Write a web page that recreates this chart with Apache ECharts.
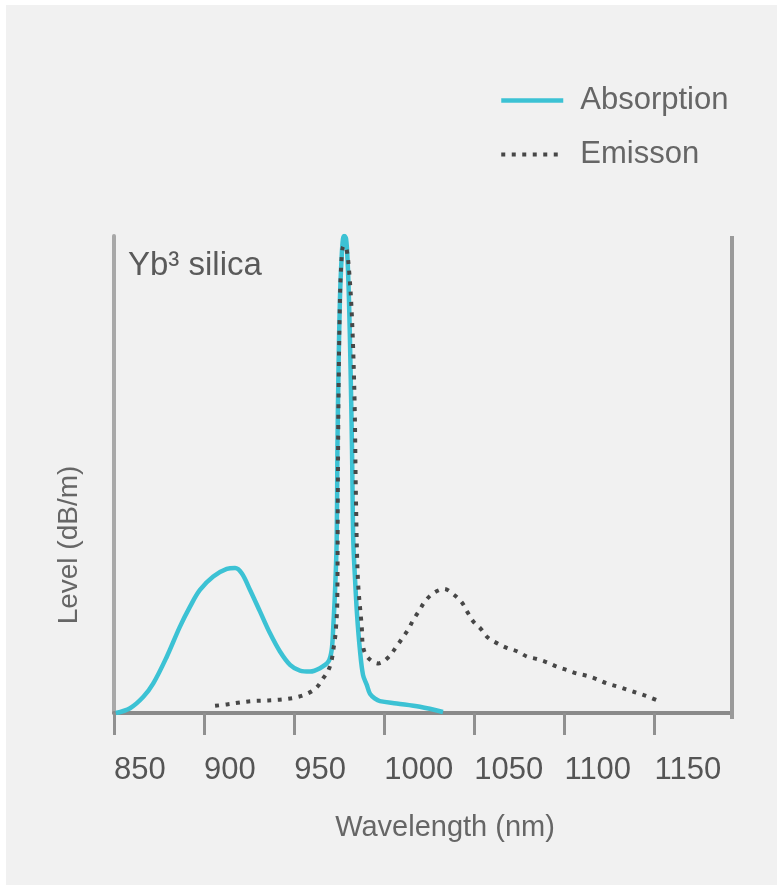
<!DOCTYPE html>
<html>
<head>
<meta charset="utf-8">
<title>Yb3 silica absorption and emission</title>
<script src="https://cdn.jsdelivr.net/npm/echarts@6/dist/echarts.min.js"></script>
<style>
  html, body { margin: 0; padding: 0; background: #ffffff; }
  #chart { width: 777px; height: 886px; }
</style>
</head>
<body>
<div id="chart"></div>
<script>
// Wavelength axis ticks (nm)
const wavelengthTicks = [850, 900, 950, 1000, 1050, 1100, 1150];

// Absorption spectrum: wavelength (nm) and relative level
const absorptionNm = [851, 858.9, 866.3, 871.8, 879.3, 886.6, 892.2, 897.7, 905.1, 912.6, 917.2, 920.9,
  925.5, 931.0, 936.6, 942.1, 947.7, 953.2, 958.8, 964.3, 969.0, 970.8, 971.7, 972.7, 973.6, 974.0,
  974.6, 975.4, 976.3, 977.1, 977.9, 978.8, 979.6, 980.4, 981.3, 982.1, 982.8, 983.8, 984.9, 986.5,
  988.2, 990.3, 992.1, 994.9, 997.6, 1006.9, 1019.8, 1032.6];
const absorptionLevel = [0, 1.0, 3.4, 6.2, 11.8, 18.1, 22.3, 25.8, 28.6, 30.2, 30.4, 29.3,
  25.8, 21.3, 16.7, 12.9, 10.1, 8.9, 8.7, 9.4, 10.8, 13.2, 18.1, 25.8, 36.3, 55.3,
  72.1, 86.8, 95.2, 99.4, 100, 99.4, 95.2, 86.8, 72.1, 55.3, 36.3, 27.9, 20.6, 13.2,
  8.0, 5.9, 4.0, 3.0, 2.5, 2.0, 1.3, 0.2];

// Emission spectrum: wavelength (nm) and relative level
const emissionNm = [906.1, 912.6, 919.9, 926.4, 932.9, 938.4, 944.9, 951.4, 957.0, 962.1, 965.8, 969.0,
  970.8, 971.7, 972.7, 973.2, 973.9, 974.2, 974.6, 975.2, 976.0, 977.4, 978.8, 980.4, 982.1, 983.5,
  984.3, 985.4, 987.5, 988.4, 991.2, 996.7, 1002.3, 1006.5, 1009.7, 1013.4, 1016.1, 1019.5, 1022.6,
  1027.2, 1033.2, 1038.3, 1043.0, 1046.1, 1049.4, 1053.7, 1057.8, 1062.8, 1068.3, 1073.9, 1079.4,
  1085.0, 1090.5, 1095.9, 1101.4, 1106.8, 1112.4, 1117.9, 1123.5, 1129.9, 1135.5, 1142.0, 1146.6, 1151.2];
const emissionLevel = [1.5, 1.8, 2.2, 2.5, 2.6, 2.7, 2.9, 3.3, 4.0, 5.2, 7.1, 9.0,
  11.1, 13.2, 15.7, 17.8, 22.7, 44.7, 65.8, 82.6, 93.1, 97.9, 97.7, 93.1, 82.6, 65.8,
  44.7, 27.9, 18.1, 13.6, 11.5, 10.4, 11.7, 13.8, 15.5, 17.6, 19.5, 21.5, 23.4,
  25.1, 26.0, 24.9, 23.2, 21.2, 19.2, 17.6, 15.7, 14.6, 13.6, 12.9, 11.8,
  11.3, 10.6, 9.7, 9.0, 8.3, 7.8, 7.1, 6.2, 5.5, 4.8, 4.0, 3.4, 2.7];

const pairs = (xs, ys) => xs.map((x, i) => [x, ys[i]]);
const FONT = "'Liberation Sans', Arial, Helvetica, sans-serif";
const CYAN = '#3cc2d4';
const DOTS = '#474747';

const chart = echarts.init(document.getElementById('chart'), null, { renderer: 'canvas' });

chart.setOption({
  backgroundColor: '#ffffff',
  animation: false,
  graphic: [
    { type: 'rect', z: -10, shape: { x: 6, y: 5, width: 771, height: 880 }, style: { fill: '#f1f1f1' } },
    {
      type: 'text', left: 128, top: 249,
      style: { text: 'Yb\u00B3 silica', font: '33px ' + FONT, fill: '#5a5a5a' }
    },
    {
      type: 'text', x: 69, y: 545, rotation: Math.PI / 2,
      style: { text: 'Level (dB/m)', font: '28px ' + FONT, fill: '#666666', align: 'center', verticalAlign: 'middle' }
    },
    // right frame line runs a little past the wavelength axis
    {
      type: 'line', z: 5,
      shape: { x1: 732, y1: 236, x2: 732, y2: 719 },
      style: { stroke: '#9a9a9a', lineWidth: 4 }
    }
  ],
  legend: {
    orient: 'vertical',
    left: 494,
    top: 80,
    itemWidth: 62,
    itemHeight: 30,
    itemGap: 23,
    itemStyle: { opacity: 0 },
    data: [
      { name: 'Absorption', lineStyle: { color: CYAN, width: 4.5 } },
      { name: 'Emisson', lineStyle: { color: DOTS, width: 4, type: [4, 6.5] } }
    ],
    textStyle: { fontFamily: FONT, fontSize: 31, color: '#666666', padding: [0, 0, 0, 12] }
  },
  grid: { left: 114, right: 45, top: 236, bottom: 173 },
  xAxis: {
    type: 'value',
    min: 850,
    max: 1193,
    interval: 50,
    name: 'Wavelength (nm)',
    nameLocation: 'middle',
    nameGap: 115,
    nameTextStyle: { fontFamily: FONT, fontSize: 29, color: '#666666', padding: [0, 0, 0, 44], verticalAlign: 'middle' },
    axisLine: { show: true, lineStyle: { color: '#8a8a8a', width: 4 } },
    axisTick: { show: true, length: 22, customValues: wavelengthTicks, lineStyle: { color: '#909090', width: 3 } },
    axisLabel: {
      customValues: wavelengthTicks,
      formatter: (v) => String(v),
      fontFamily: FONT, fontSize: 31, color: '#555555',
      align: 'left', verticalAlign: 'middle', margin: 57
    },
    splitLine: { show: false }
  },
  yAxis: {
    type: 'value', min: 0, max: 100,
    axisLine: { show: true, lineStyle: { color: '#a8a8a8', width: 4 } },
    axisTick: { show: false }, axisLabel: { show: false }, splitLine: { show: false }
  },
  series: [
    {
      name: 'Absorption',
      type: 'line',
      data: pairs(absorptionNm, absorptionLevel),
      showSymbol: false,
      symbol: 'none',
      smooth: 0.35,
      lineStyle: { color: CYAN, width: 4.5 },
      itemStyle: { color: CYAN },
      z: 2
    },
    {
      name: 'Emisson',
      type: 'line',
      data: pairs(emissionNm, emissionLevel),
      showSymbol: false,
      symbol: 'none',
      smooth: 0.35,
      lineStyle: { color: DOTS, width: 4, type: [4, 6.5] },
      itemStyle: { color: DOTS },
      z: 3
    }
  ]
});
</script>
</body>
</html>
